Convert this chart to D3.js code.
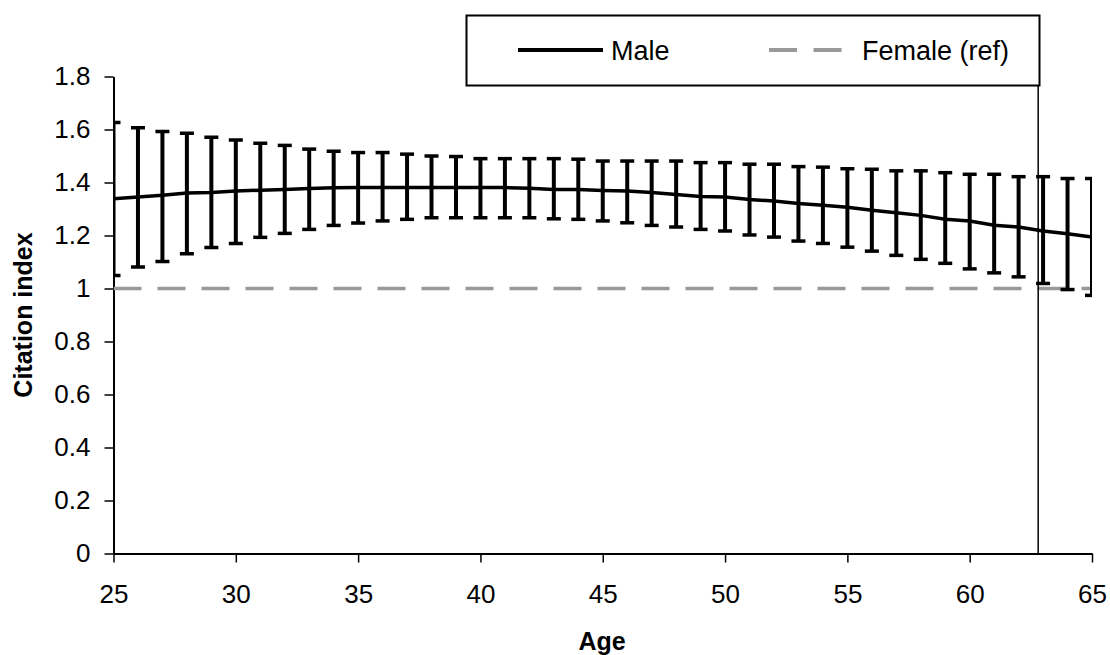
<!DOCTYPE html>
<html>
<head>
<meta charset="utf-8">
<script src="https://cdn.jsdelivr.net/npm/d3@7"></script>
<style>
body { margin:0; background:#fff; }
text { font-family: "Liberation Sans", Arial, sans-serif; }
</style>
</head>
<body>
<svg id="chart" width="1110" height="655"></svg>
<script>
// ages 25..65, male citation index relative to female (=1)
var ages = d3.range(25, 66);
var maleMean = [1.339,1.345,1.352,1.360,1.362,1.368,1.371,1.374,1.377,1.380,
	1.381,1.381,1.381,1.381,1.381,1.381,1.381,1.378,1.374,1.374,
	1.370,1.368,1.362,1.355,1.347,1.345,1.336,1.330,1.321,1.314,
	1.307,1.295,1.286,1.276,1.261,1.255,1.239,1.232,1.217,1.207,1.194];
var maleUpper = [1.626,1.607,1.592,1.586,1.571,1.560,1.548,1.540,1.526,1.518,
	1.513,1.513,1.507,1.500,1.498,1.490,1.490,1.490,1.490,1.488,
	1.481,1.481,1.481,1.481,1.475,1.475,1.469,1.469,1.460,1.458,
	1.452,1.450,1.444,1.444,1.437,1.431,1.431,1.422,1.422,1.415,1.415];
var maleLower = [1.049,1.081,1.102,1.131,1.155,1.170,1.193,1.208,1.223,1.238,
	1.247,1.255,1.261,1.267,1.267,1.267,1.267,1.267,1.263,1.261,
	1.255,1.248,1.238,1.232,1.223,1.217,1.202,1.194,1.179,1.170,
	1.156,1.141,1.125,1.110,1.095,1.074,1.059,1.044,1.019,0.996,0.974];
var femaleRef = 1;
var xTicks = [25,30,35,40,45,50,55,60,65];
var yTicks = [0,0.2,0.4,0.6,0.8,1,1.2,1.4,1.6,1.8];
var markerAge = 62.8;

var svg = d3.select("#chart");
var x = d3.scaleLinear().domain([25,65]).range([113.5,1092]);
var y = d3.scaleLinear().domain([0,1.8]).range([553.5,76.5]);

svg.append("clipPath").attr("id","plotclip")
	.append("rect").attr("x",x(25)).attr("y",0).attr("width",x(65)-x(25)).attr("height",y(0)+2);

// y axis
var yAxis = svg.append("g").attr("transform","translate("+x(25)+",0)")
	.call(d3.axisLeft(y).tickValues(yTicks).tickSize(9).tickSizeOuter(0).tickPadding(14)
		.tickFormat(function(d){ return String(+d.toFixed(1)); }));
// x axis
var xAxis = svg.append("g").attr("transform","translate(0,"+y(0)+")")
	.call(d3.axisBottom(x).tickValues(xTicks).tickSize(9).tickSizeOuter(0).tickPadding(22));

[yAxis, xAxis].forEach(function(a){
	a.select(".domain").attr("stroke","#000").attr("stroke-width",2);
	a.selectAll(".tick line").attr("stroke","#000").attr("stroke-width",1.5);
	a.selectAll(".tick text").attr("fill","#000").attr("font-size","26px")
		.style("font-family","'Liberation Sans', Arial, sans-serif");
});

var plot = svg.append("g").attr("clip-path","url(#plotclip)");

// female reference line
plot.append("line")
	.attr("x1",x(25)).attr("x2",x(65))
	.attr("y1",y(femaleRef)).attr("y2",y(femaleRef))
	.attr("stroke","#999").attr("stroke-width",3.5)
	.attr("stroke-dasharray","28,16");

// error bars
var bars = plot.selectAll("g.err").data(ages).enter().append("g").attr("class","err");
bars.append("line")
	.attr("x1",function(d){ return x(d); }).attr("x2",function(d){ return x(d); })
	.attr("y1",function(d,i){ return y(maleUpper[i]); })
	.attr("y2",function(d,i){ return y(maleLower[i]); })
	.attr("stroke","#000").attr("stroke-width",4);
bars.append("line")
	.attr("x1",function(d){ return x(d)-7; }).attr("x2",function(d){ return x(d)+7; })
	.attr("y1",function(d,i){ return y(maleUpper[i]); })
	.attr("y2",function(d,i){ return y(maleUpper[i]); })
	.attr("stroke","#000").attr("stroke-width",3.5);
bars.append("line")
	.attr("x1",function(d){ return x(d)-7; }).attr("x2",function(d){ return x(d)+7; })
	.attr("y1",function(d,i){ return y(maleLower[i]); })
	.attr("y2",function(d,i){ return y(maleLower[i]); })
	.attr("stroke","#000").attr("stroke-width",3.5);

// male line
plot.append("path")
	.datum(ages)
	.attr("fill","none").attr("stroke","#000").attr("stroke-width",3.5)
	.attr("d", d3.line().x(function(d){ return x(d); }).y(function(d,i){ return y(maleMean[i]); }));

// legend
var leg = svg.append("g");
leg.append("rect").attr("x",466.5).attr("y",15.5).attr("width",573).attr("height",70)
	.attr("fill","#fff").attr("stroke","#000").attr("stroke-width",2);
leg.append("line").attr("x1",518).attr("x2",603).attr("y1",50).attr("y2",50)
	.attr("stroke","#000").attr("stroke-width",4);
leg.append("text").attr("x",611).attr("y",60).attr("font-size","27px").text("Male");
leg.append("line").attr("x1",769).attr("x2",842).attr("y1",50).attr("y2",50)
	.attr("stroke","#999").attr("stroke-width",4).attr("stroke-dasharray","28,16.5");
leg.append("text").attr("x",862).attr("y",60).attr("font-size","27px").text("Female (ref)");

// vertical marker line below legend
svg.append("line")
	.attr("x1",x(markerAge)).attr("x2",x(markerAge))
	.attr("y1",85.5).attr("y2",y(0))
	.attr("stroke","#000").attr("stroke-width",1.5);

// axis titles
svg.append("text").attr("x",602).attr("y",650).attr("text-anchor","middle")
	.attr("font-size","25px").attr("font-weight","bold").text("Age");
svg.append("text").attr("transform","translate(32,315) rotate(-90)").attr("text-anchor","middle")
	.attr("font-size","25px").attr("font-weight","bold").text("Citation index");
</script>
</body>
</html>
